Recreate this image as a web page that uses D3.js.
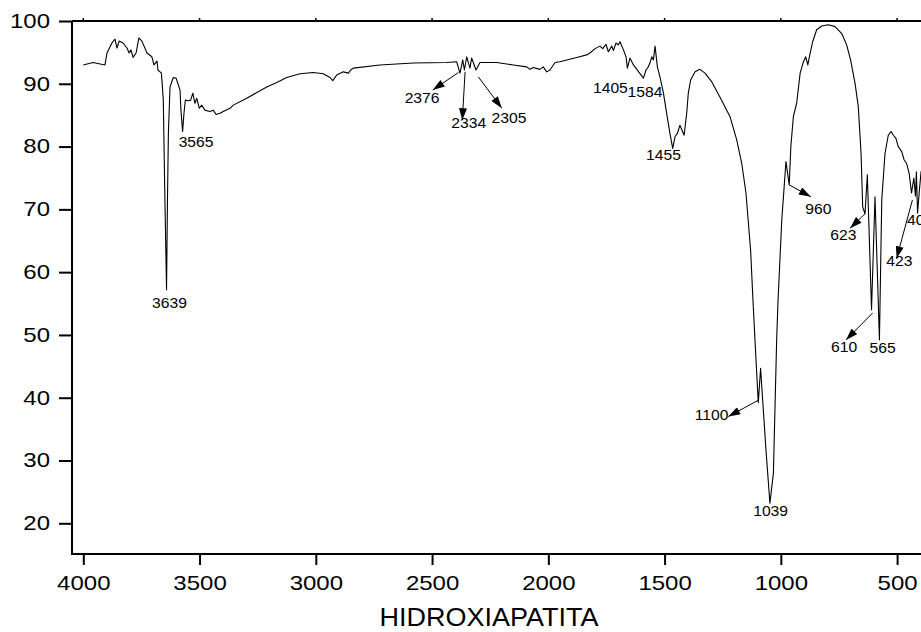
<!DOCTYPE html>
<html>
<head>
<meta charset="utf-8">
<script src="https://cdn.jsdelivr.net/npm/d3@7"></script>
<style>
  body { margin: 0; background: #fff; }
  svg { display: block; font-family: "Liberation Sans", Arial, sans-serif; }
</style>
</head>
<body>
<div id="chart"></div>
<script>
// FTIR spectrum, wavenumber (cm-1) vs transmittance (%)
const wavenumber = [4000,3958,3907,3898,3877,3864,3855,3846,3829,3812,3803,3795,3786,3773,3761,3748,3726,3705,3696,3683,3679,3664,3656,3649,3642,3638,3634,3627,3613,3601,3591,3584,3580,3573,3567,3561,3548,3538,3529,3520,3512,3501,3491,3477,3455,3441,3429,3412,3398,3369,3355,3297,3211,3168,3125,3068,3011,2968,2939,2927,2910,2882,2860,2850,2839,2724,2581,2437,2394,2380,2368,2361,2351,2337,2330,2311,2294,2222,2151,2093,2079,2065,2036,2022,2007,1993,1971,1950,1921,1878,1835,1821,1799,1778,1766,1752,1742,1727,1720,1709,1699,1692,1677,1666,1660,1649,1634,1591,1580,1570,1563,1555,1548,1541,1531,1520,1505,1491,1477,1465,1455,1445,1434,1416,1405,1398,1388,1369,1348,1326,1297,1262,1219,1190,1168,1150,1130,1120,1109,1097,1087,1081,1064,1047,1032,1018,1012,996,978,964,957,946,932,917,903,893,884,874,863,846,824,796,767,738,717,700,681,667,655,648,638,628,610,595,576,566,552,538,526,516,505,495,480,470,459,448,438,428,421,417,412,404,397,390];
const transmittance = [93.0,93.4,93.0,94.9,96.5,97.1,95.7,96.8,96.5,95.7,94.9,95.4,94.2,94.9,97.3,96.8,94.9,94.3,93.0,93.6,92.2,91.7,87.4,71.5,57.2,71.5,82.2,89.5,91.0,90.9,89.8,89.0,85.8,82.4,85.3,87.4,87.3,87.4,88.5,86.9,87.7,86.1,86.6,85.8,85.6,85.8,85.1,85.3,85.6,86.1,86.6,87.7,89.5,90.2,91.0,91.6,91.8,91.6,91.0,90.5,91.4,91.9,91.7,92.2,92.5,93.0,93.3,93.4,93.5,91.7,93.8,92.2,94.3,92.5,94.1,92.2,93.4,93.4,93.0,92.7,92.3,92.6,92.3,92.7,91.9,92.2,93.4,93.5,93.8,94.2,94.6,94.9,95.6,96.0,95.6,96.3,95.1,96.0,95.3,96.5,96.2,96.7,95.4,94.3,92.5,94.1,93.0,90.9,92.2,92.7,93.3,94.3,93.8,96.0,92.7,91.1,88.5,85.3,82.1,79.7,81.6,82.1,83.4,81.8,85.3,88.5,90.6,91.9,92.3,91.7,90.3,87.9,84.8,81.1,77.3,72.6,63.5,55.6,47.6,39.2,44.7,41.2,31.7,23.2,28.0,49.2,55.6,68.3,77.6,73.9,80.0,84.8,86.9,91.7,93.5,94.3,93.0,94.9,96.7,98.6,99.2,99.4,99.1,98.0,96.2,93.8,90.1,86.4,78.9,70.4,69.3,75.5,54.0,72.0,49.2,71.5,78.9,81.8,82.4,81.8,81.3,80.0,79.2,77.9,77.3,75.7,72.6,75.0,72.1,76.0,69.4,73.1,76.0,76.5];

const xTicks = [4000,3500,3000,2500,2000,1500,1000,500];
const yTicks = [20,30,40,50,60,70,80,90,100];
const title = "HIDROXIAPATITA";

// peak labels: text, wavenumber, transmittance of label anchor
const peakText = ["3639","3565","2376","2334","2305","1405","1584","1455","1100","1039","960","623","423","610","565","400"];
const peakWn   = [3629,3515,2543,2342,2169,1733,1584,1505,1298,1044,839,731,490,728,562,401];
const peakTr   = [54.3,80.0,86.9,82.9,83.8,88.6,87.9,77.8,36.5,21.1,69.2,65.2,60.9,47.3,47.2,67.5];

// arrows: [fromWn, fromTr, toWn, toTr]
const arrows = [
  [2387,91.8,2497,89.0],
  [2358,91.9,2370,84.2],
  [2301,91.1,2200,86.1],
  [1097,39.6,1226,37.0],
  [964,73.9,871,72.0],
  [638,69.3,702,67.0],
  [434,71.5,502,62.2],
  [605,53.5,720,49.2]
];

const W = 921, H = 632;
const left = 72, bottomY = 554, topY = 21;

const x = d3.scaleLinear().domain([4000, 500]).range([83.3, 897.1]);
const y = d3.scaleLinear().domain([20, 100]).range([523.3, 21]);

const svg = d3.select("#chart").append("svg")
  .attr("width", W).attr("height", H);

svg.append("defs").append("marker")
  .attr("id", "head")
  .attr("markerUnits", "userSpaceOnUse")
  .attr("viewBox", "0 0 12 8")
  .attr("refX", 12).attr("refY", 4)
  .attr("markerWidth", 13).attr("markerHeight", 8)
  .attr("orient", "auto")
  .append("path").attr("d", "M0,0L12,4L0,8Z").attr("fill", "#000");

// spectrum
const pts = wavenumber.map((w, i) => [w, transmittance[i]]);
const line = d3.line().x(d => x(d[0])).y(d => y(d[1]));
svg.append("path")
  .datum(pts)
  .attr("d", line)
  .attr("fill", "none")
  .attr("stroke", "#000")
  .attr("stroke-width", 1.1)
  .attr("stroke-linejoin", "round");

// axes
const xAxis = d3.axisBottom(x).tickValues(xTicks).tickSize(11).tickPadding(11).tickFormat(d3.format("d"));
const gx = svg.append("g").attr("transform", "translate(0," + bottomY + ")").call(xAxis);
gx.select(".domain").remove();
gx.selectAll("line").attr("stroke-width", 2);
gx.selectAll("text").attr("font-size", 20).attr("fill", "#000")
  .attr("transform", "scale(1.2,1)");

const yAxis = d3.axisLeft(y).tickValues(yTicks).tickSize(13).tickPadding(9);
const gy = svg.append("g").attr("transform", "translate(" + left + ",0)").call(yAxis);
gy.select(".domain").remove();
gy.selectAll("line").attr("stroke-width", 2);
gy.selectAll("text").attr("font-size", 20).attr("fill", "#000")
  .attr("x", -22 / 1.2).attr("transform", "scale(1.2,1)");

// frame lines
svg.append("line").attr("x1", left).attr("x2", W).attr("y1", bottomY).attr("y2", bottomY)
  .attr("stroke", "#000").attr("stroke-width", 2);
svg.append("line").attr("x1", left).attr("x2", left).attr("y1", topY).attr("y2", bottomY + 1)
  .attr("stroke", "#000").attr("stroke-width", 2);
svg.append("line").attr("x1", left).attr("x2", W).attr("y1", topY).attr("y2", topY)
  .attr("stroke", "#000").attr("stroke-width", 2);
svg.selectAll(".toptick").data(xTicks).enter().append("line")
  .attr("x1", d => x(d)).attr("x2", d => x(d))
  .attr("y1", topY).attr("y2", topY - 3)
  .attr("stroke", "#000").attr("stroke-width", 1.5);

// arrows
svg.selectAll(".arrow").data(arrows).enter().append("line")
  .attr("x1", d => x(d[0])).attr("y1", d => y(d[1]))
  .attr("x2", d => x(d[2])).attr("y2", d => y(d[3]))
  .attr("stroke", "#000").attr("stroke-width", 1)
  .attr("marker-end", "url(#head)");

// peak labels
svg.selectAll(".peak").data(peakText).enter().append("g")
  .attr("transform", (d, i) => "translate(" + x(peakWn[i]) + "," + y(peakTr[i]) + ") scale(1.12,1)")
  .append("text")
  .attr("text-anchor", "middle")
  .attr("font-size", 14)
  .attr("fill", "#000")
  .text(d => d);

// title
svg.append("g").attr("transform", "translate(489,626) scale(1.08,1)")
  .append("text")
  .attr("text-anchor", "middle")
  .attr("font-size", 25)
  .attr("fill", "#000")
  .text(title);
</script>
</body>
</html>
